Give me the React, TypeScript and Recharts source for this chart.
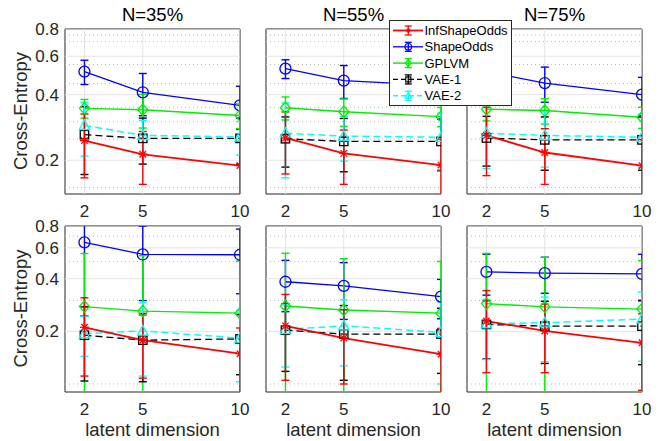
import React from 'react';
import { LineChart, Line, XAxis, YAxis, ErrorBar, ReferenceLine, ReferenceArea } from 'recharts';

// ---------------- data ----------------
const latentDims = [2, 5, 10];
const panelTitles = ['N=35%', 'N=55%', 'N=75%'];
const yTicks = [0.2, 0.4, 0.6, 0.8];
const xTicks = [2, 5, 10];
const topMinorGrid = [0.15, 0.25, 0.3, 0.35, 0.45, 0.55, 0.7, 0.75];
const bottomMinorGrid = [0.1, 0.3, 0.5, 0.7];
const topDomain = [0.14, 0.8];
const bottomDomain = [0.09, 0.8];
const xDomain = [1, 10];
const yLabel = 'Cross-Entropy';
const xLabel = 'latent dimension';

// panels: [top-left, top-mid, top-right, bottom-left, bottom-mid, bottom-right]
const infShapeOddsMean = [
  [0.246, 0.213, 0.189], [0.253, 0.215, 0.19], [0.26, 0.217, 0.189],
  [0.211, 0.178, 0.149], [0.215, 0.183, 0.148], [0.229, 0.201, 0.172],
];
const infShapeOddsErr = [
  [0.08, 0.058, 0.055], [0.08, 0.06, 0.06], [0.09, 0.062, 0.06],
  [0.1, 0.07, 0.06], [0.11, 0.083, 0.06], [0.113, 0.085, 0.08],
];
const shapeOddsMean = [
  [0.51, 0.41, 0.357], [0.526, 0.464, 0.44], [0.51, 0.452, 0.4],
  [0.645, 0.55, 0.548], [0.384, 0.364, 0.316], [0.437, 0.43, 0.426],
];
const shapeOddsErr = [
  [0.065, 0.09, 0.08], [0.052, 0.08, 0.07], [0.06, 0.083, 0.08],
  [0.4, 0.25, 0.22], [0.125, 0.13, 0.08], [0.115, 0.1, 0.125],
];
const gplvmMean = [
  [0.346, 0.341, 0.321], [0.348, 0.334, 0.317], [0.343, 0.338, 0.315],
  [0.277, 0.261, 0.254], [0.279, 0.265, 0.254], [0.288, 0.276, 0.268],
];
const gplvmErr = [
  [0.034, 0.06, 0.042], [0.042, 0.048, 0.032], [0.04, 0.045, 0.035],
  [0.28, 0.28, 0.25], [0.28, 0.255, 0.248], [0.27, 0.254, 0.24],
];
const vae1Mean = [
  [0.262, 0.252, 0.252], [0.251, 0.244, 0.244], [0.253, 0.248, 0.248],
  [0.19, 0.178, 0.181], [0.203, 0.193, 0.193], [0.219, 0.214, 0.214],
];
const vae1Err = [
  [0.09, 0.06, 0.06], [0.065, 0.067, 0.065], [0.065, 0.068, 0.068],
  [0.086, 0.075, 0.068], [0.085, 0.088, 0.078], [0.08, 0.083, 0.085],
];
const vae2Mean = [
  [0.289, 0.26, 0.256], [0.266, 0.258, 0.255], [0.266, 0.26, 0.255],
  [0.194, 0.201, 0.183], [0.205, 0.215, 0.197], [0.221, 0.224, 0.235],
];
const vae2Err = [
  [0.08, 0.045, 0.045], [0.1, 0.06, 0.074], [0.083, 0.074, 0.07],
  [0.05, 0.09, 0.08], [0.08, 0.088, 0.097], [0.083, 0.09, 0.1],
];

// ---------------- styling ----------------
const FONT = '"Liberation Sans", Arial, Helvetica, sans-serif';
const INK = '#262626';

type MarkerKind = 'star' | 'circle' | 'diamond' | 'square' | 'triangle';
type SeriesDef = {
  key: string; name: string; color: string; width: number; dash?: string;
  marker: MarkerKind; size: number; mean: number[][]; err: number[][];
};

const series: SeriesDef[] = [
  { key: 'inf', name: 'InfShapeOdds', color: '#ff0000', width: 1.8, marker: 'star', size: 4.5, mean: infShapeOddsMean, err: infShapeOddsErr },
  { key: 'shape', name: 'ShapeOdds', color: '#0000ff', width: 1.3, marker: 'circle', size: 5.5, mean: shapeOddsMean, err: shapeOddsErr },
  { key: 'gplvm', name: 'GPLVM', color: '#00ee00', width: 1.4, marker: 'diamond', size: 5, mean: gplvmMean, err: gplvmErr },
  { key: 'vae1', name: 'VAE-1', color: '#000000', width: 1.3, dash: '7 4', marker: 'square', size: 4.2, mean: vae1Mean, err: vae1Err },
  { key: 'vae2', name: 'VAE-2', color: '#00ffff', width: 1.5, dash: '7 4', marker: 'triangle', size: 5.5, mean: vae2Mean, err: vae2Err },
];
// draw order (last on top)
const drawOrder = ['shape', 'gplvm', 'vae1', 'vae2', 'inf'];

function Marker({ kind, cx, cy, color, s, sw }: { kind: MarkerKind; cx: number; cy: number; color: string; s: number; sw: number }) {
  if (kind === 'star') {
    const d = s * 0.72;
    return (
      <g stroke={color} strokeWidth={sw} fill="none">
        <line x1={cx - s} y1={cy} x2={cx + s} y2={cy} />
        <line x1={cx} y1={cy - s} x2={cx} y2={cy + s} />
        <line x1={cx - d} y1={cy - d} x2={cx + d} y2={cy + d} />
        <line x1={cx - d} y1={cy + d} x2={cx + d} y2={cy - d} />
      </g>
    );
  }
  if (kind === 'circle') return <circle cx={cx} cy={cy} r={s} fill="none" stroke={color} strokeWidth={sw} />;
  if (kind === 'diamond')
    return <polygon points={`${cx},${cy - s * 1.15} ${cx + s},${cy} ${cx},${cy + s * 1.15} ${cx - s},${cy}`} fill="none" stroke={color} strokeWidth={sw} />;
  if (kind === 'square') return <rect x={cx - s} y={cy - s} width={2 * s} height={2 * s} fill="none" stroke={color} strokeWidth={sw} />;
  return <polygon points={`${cx},${cy - s} ${cx + s * 0.95},${cy + s * 0.75} ${cx - s * 0.95},${cy + s * 0.75}`} fill="none" stroke={color} strokeWidth={sw} />;
}

const colLefts = [65, 266, 467];
const plotW = 175;
const rowTops = [28.5, 225.5];
const rowHeights = [165, 166];
const Y_AXIS_W = 60;
const M_TOP = 10;
const M_RIGHT = 10;
const X_AXIS_H = 30;

function Panel({ p }: { p: number }) {
  const row = p < 3 ? 0 : 1;
  const col = p % 3;
  const domain = row === 0 ? topDomain : bottomDomain;
  const minor = row === 0 ? topMinorGrid : bottomMinorGrid;
  const h = rowHeights[row];
  const data = latentDims.map((d, i) => {
    const r: any = { dim: d };
    series.forEach((s) => {
      const m = s.mean[p][i];
      const e = s.err[p][i];
      r[s.key] = m;
      const lo = m - e > domain[0] * 0.5 ? e : m - domain[0] * 0.5;
      r[s.key + 'Err'] = [lo, e];
    });
    return r;
  });
  const ordered = drawOrder.map((k) => series.find((s) => s.key === k)!) as SeriesDef[];
  const tickStyle = { fontSize: 17, fill: INK, fontFamily: FONT };
  return (
    <div className={`panel-r${row}`} style={{ position: 'absolute', left: colLefts[col] - Y_AXIS_W, top: rowTops[row] - M_TOP }}>
      <LineChart
        width={Y_AXIS_W + plotW + M_RIGHT}
        height={M_TOP + h + X_AXIS_H}
        data={data}
        margin={{ top: M_TOP, right: M_RIGHT, left: 0, bottom: 0 }}
      >
        <XAxis
          dataKey="dim" type="number" domain={xDomain} ticks={xTicks} allowDataOverflow
          height={X_AXIS_H} tickSize={0} tickMargin={11} axisLine={false} tickLine={false}
          tick={tickStyle} interval={0}
        />
        <YAxis
          type="number" scale="log" domain={domain} ticks={yTicks} allowDataOverflow
          width={Y_AXIS_W} tickSize={0} tickMargin={6} axisLine={false} tickLine={false}
          tick={col === 0 ? tickStyle : false} interval={0}
          tickFormatter={(v: number) => String(v)}
        />
        {minor.map((v) => (
          <ReferenceLine key={'mn' + v} y={v} stroke="#b8b8b8" strokeWidth={1} strokeDasharray="1 3" ifOverflow="hidden" />
        ))}
        {yTicks.map((v) => (
          <ReferenceLine key={'mj' + v} y={v} stroke="#e3e3e3" strokeWidth={1} ifOverflow="hidden" />
        ))}
        {xTicks.map((v) => (
          <ReferenceLine key={'vx' + v} x={v} stroke="#e3e3e3" strokeWidth={1} ifOverflow="hidden" />
        ))}
        {ordered.map((s) => (
          <Line
            key={s.key}
            type="linear"
            dataKey={s.key}
            stroke={s.color}
            strokeWidth={s.width}
            strokeDasharray={s.dash}
            isAnimationActive={false}
            activeDot={false}
            dot={(props: any) => (
              <Marker key={`${s.key}-${props.index}`} kind={s.marker} cx={props.cx} cy={props.cy} color={s.color} s={s.size} sw={1.3} />
            )}
          >
            <ErrorBar dataKey={s.key + 'Err'} width={4} stroke={s.color} strokeWidth={1.4} direction="y" isAnimationActive={false} />
          </Line>
        ))}
        <ReferenceArea x1={xDomain[0]} x2={xDomain[1]} y1={domain[0]} y2={domain[1]} fill="none" fillOpacity={0} stroke={INK} strokeWidth={1} ifOverflow="visible" />
      </LineChart>
    </div>
  );
}

function ClipDefs() {
  return (
    <svg width={0} height={0} style={{ position: 'absolute', left: 0, top: 0 }}>
      <defs>
        {rowHeights.map((h, r) => (
          <clipPath key={r} id={`ebclip${r}`} clipPathUnits="userSpaceOnUse">
            <rect x={Y_AXIS_W} y={M_TOP} width={plotW} height={h} />
          </clipPath>
        ))}
      </defs>
    </svg>
  );
}

function Overlay() {
  const lx = 389.5, ly = 20.5, lw = 122, lh = 85;
  const rowY = [30.5, 46.8, 63.1, 79.4, 95.7];
  return (
    <svg width={667} height={441} style={{ position: 'absolute', left: 0, top: 0, pointerEvents: 'none' }}>
      {panelTitles.map((t, i) => (
        <text key={t} x={colLefts[i] + plotW / 2} y={21} textAnchor="middle" fontSize={18.5} fill="#000" fontFamily={FONT}>{t}</text>
      ))}
      {rowTops.map((top, r) => {
        const cy = top + rowHeights[r] / 2;
        return (
          <text key={'yl' + r} x={27} y={cy} transform={`rotate(-90, 27, ${cy})`} textAnchor="middle" fontSize={18.5} fill={INK} fontFamily={FONT}>{yLabel}</text>
        );
      })}
      {colLefts.map((l, i) => (
        <text key={'xl' + i} x={l + plotW / 2} y={435.5} textAnchor="middle" fontSize={18.5} fill={INK} fontFamily={FONT}>{xLabel}</text>
      ))}
      <rect x={lx} y={ly} width={lw} height={lh} fill="#fff" stroke={INK} strokeWidth={1} />
      {series.map((s, i) => {
        const cy = rowY[i];
        const mx = 408.3;
        return (
          <g key={'lg' + s.key}>
            <line x1={393} y1={cy} x2={423} y2={cy} stroke={s.color} strokeWidth={s.width} strokeDasharray={s.dash ? '5 3' : undefined} />
            <line x1={mx} y1={cy - 4.5} x2={mx} y2={cy + 4.5} stroke={s.color} strokeWidth={1.3} />
            <line x1={mx - 3.5} y1={cy - 4.5} x2={mx + 3.5} y2={cy - 4.5} stroke={s.color} strokeWidth={1.3} />
            <line x1={mx - 3.5} y1={cy + 4.5} x2={mx + 3.5} y2={cy + 4.5} stroke={s.color} strokeWidth={1.3} />
            <Marker kind={s.marker} cx={mx} cy={cy} color={s.color} s={s.marker === 'star' ? 2.2 : s.size * 0.6} sw={1.2} />
            <text x={424.5} y={cy + 4.6} fontSize={13} fill="#000" fontFamily={FONT}>{s.name}</text>
          </g>
        );
      })}
    </svg>
  );
}

const clipCss = rowHeights
  .map((_, r) => `.panel-r${r} g[class*="recharts-errorBar"] { clip-path: url(#ebclip${r}); }`)
  .join('\n');

export default function App() {
  return (
    <div style={{ position: 'absolute', left: 0, top: 0, width: 667, height: 441, background: '#fff', overflow: 'hidden' }}>
      <style>{clipCss}</style>
      <ClipDefs />
      {[0, 1, 2, 3, 4, 5].map((p) => (
        <Panel key={p} p={p} />
      ))}
      <Overlay />
    </div>
  );
}
